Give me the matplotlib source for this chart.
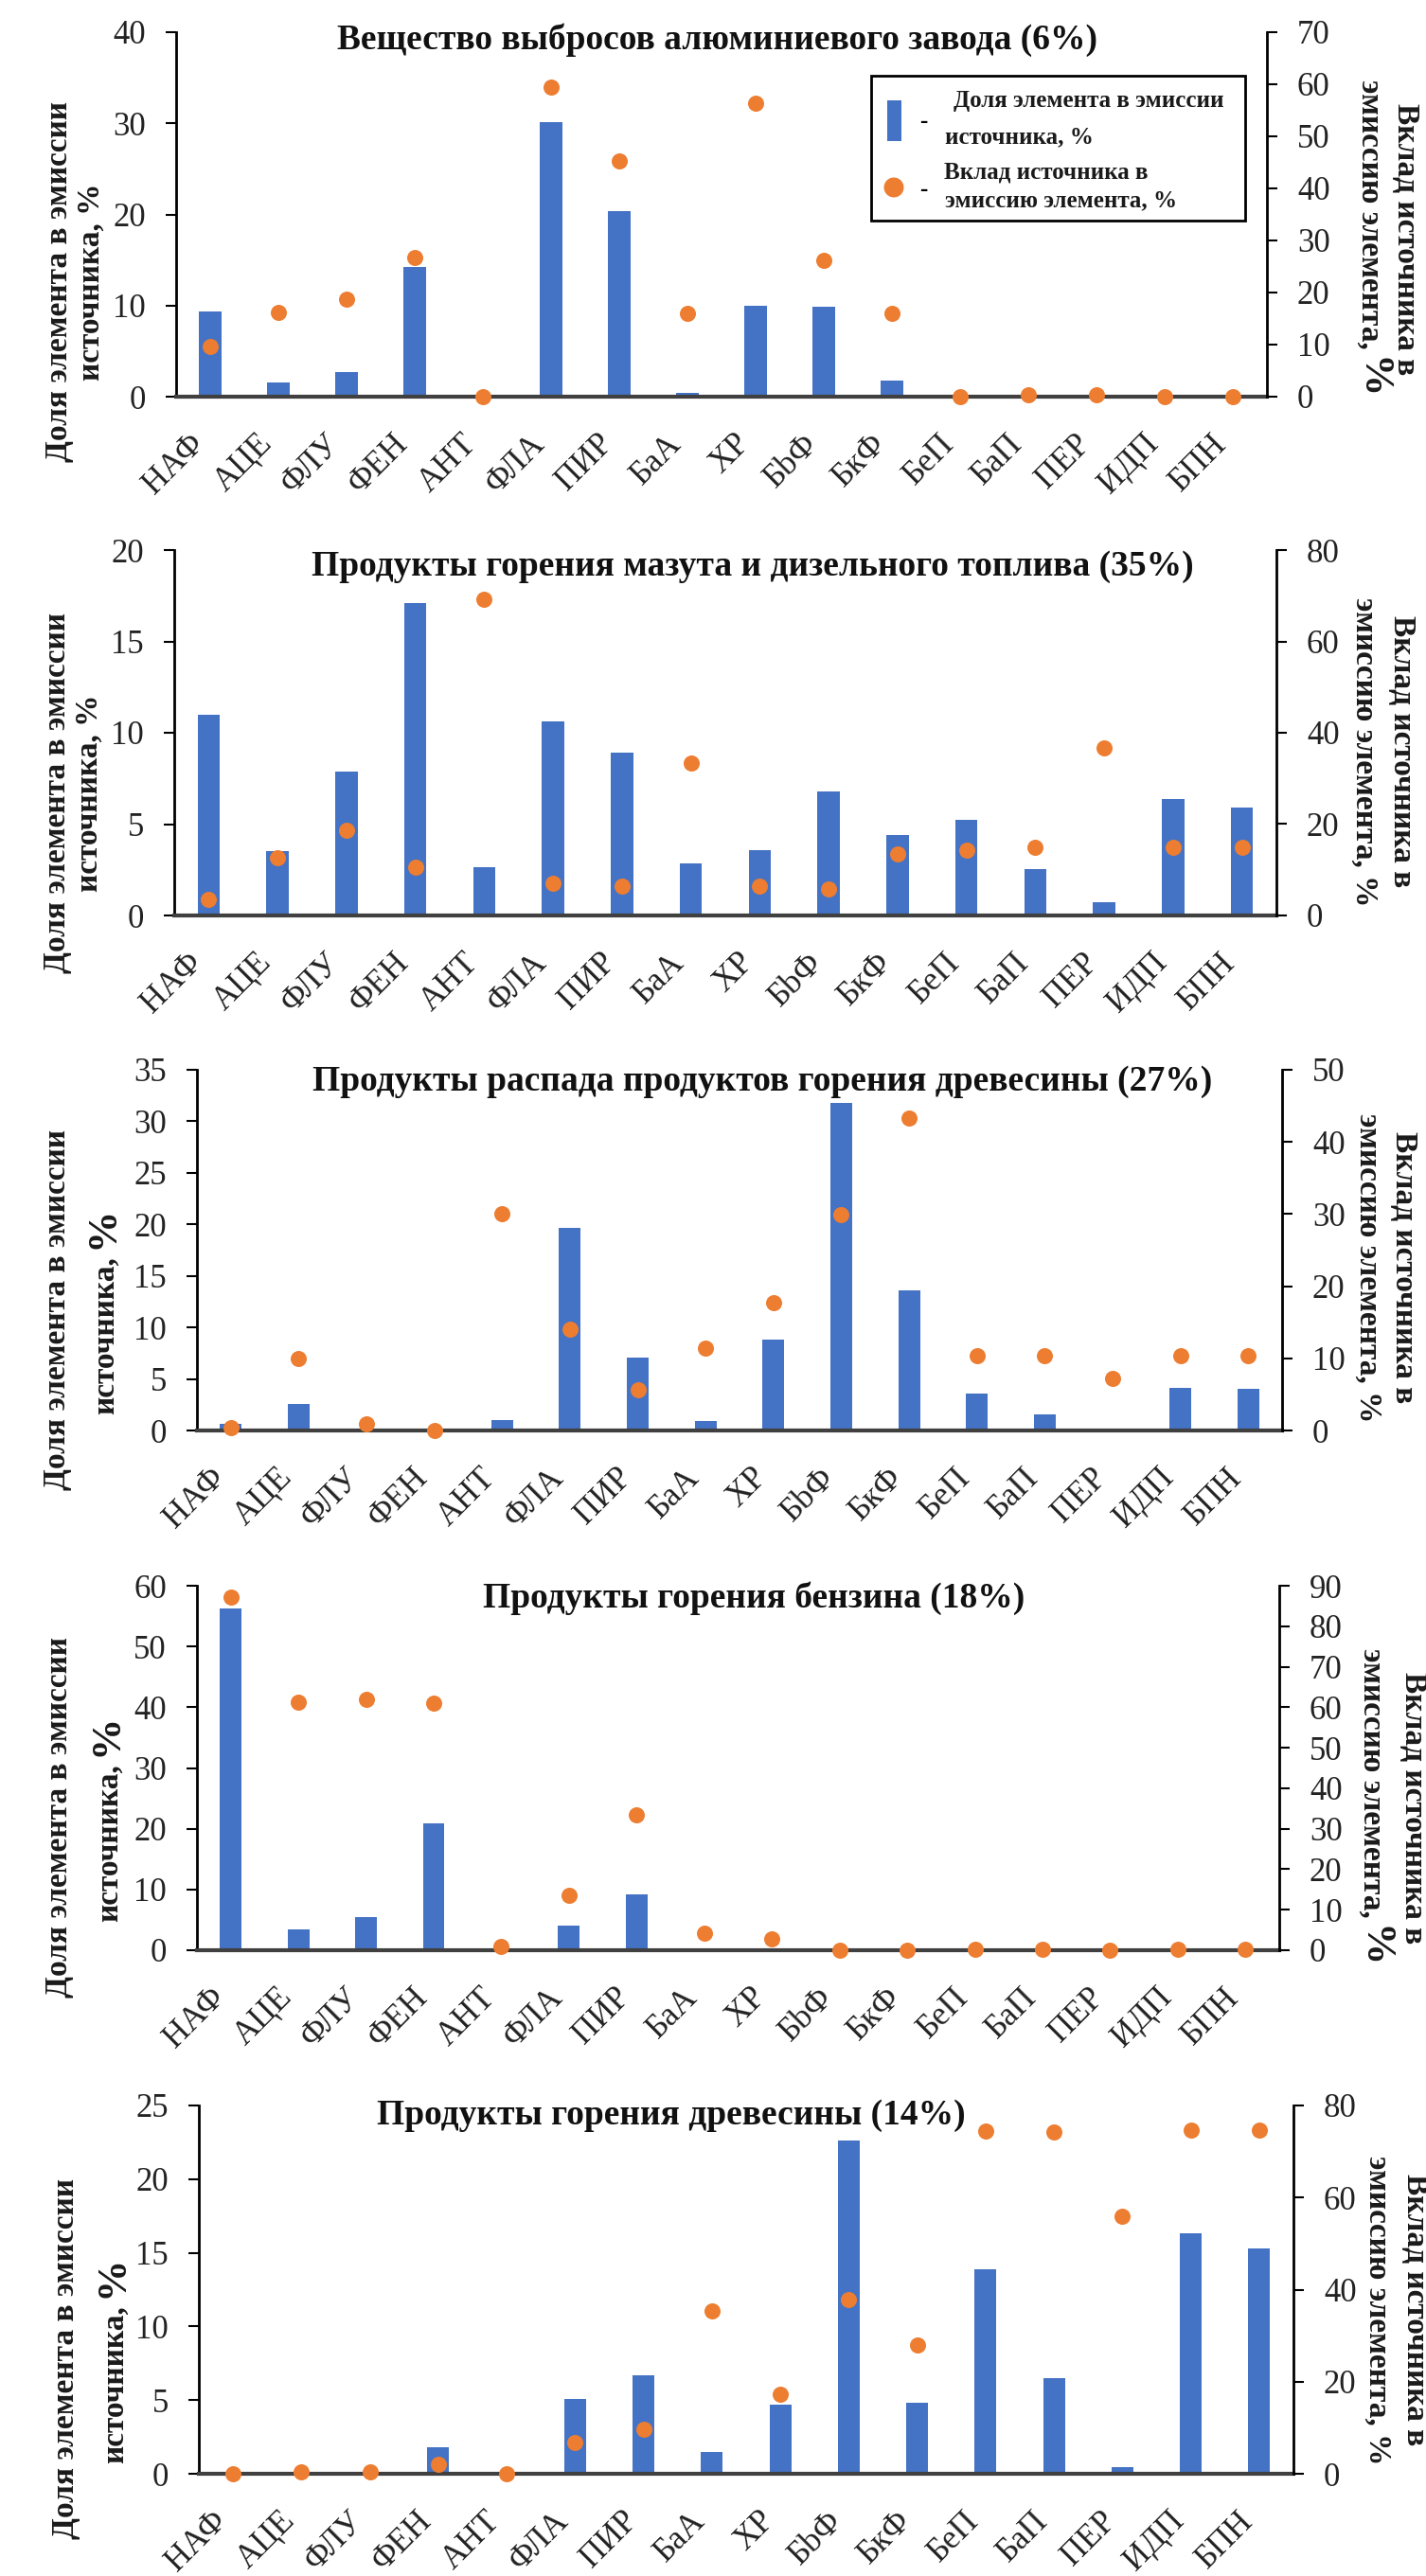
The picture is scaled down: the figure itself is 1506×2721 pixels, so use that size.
import matplotlib
matplotlib.use('Agg')
import matplotlib.pyplot as plt
from matplotlib.patches import Rectangle, Ellipse
import numpy as np

# Figure size in pixels (dpi 100)
W, H = 1506, 2721
DPI = 100
BLUE = '#4472C4'
ORANGE = '#ED7D31'
plt.rcParams['font.family'] = ['Liberation Serif', 'DejaVu Serif']

categories = ['НАФ', 'АЦЕ', 'ФЛУ', 'ФЕН', 'АНТ', 'ФЛА', 'ПИР', 'БаА', 'ХР',
              'БbФ', 'БкФ', 'БеП', 'БаП', 'ПЕР', 'ИДП', 'БПН']

# Доля элемента в эмиссии источника, % (bars, left axis)
# Вклад источника в эмиссию элемента, % (dots, right axis)
alum_share = [9.4, 1.6, 2.7, 14.2, 0, 30.1, 20.4, 0.45, 10.0, 9.9, 1.75, 0, 0, 0, 0, 0]
alum_contrib = [9.6, 16.1, 18.8, 26.8, 0, 59.4, 45.2, 16.0, 56.3, 26.2, 16.0, 0, 0.4, 0.4, 0, 0]

oil_share = [11.0, 3.5, 7.9, 17.1, 2.65, 10.6, 8.9, 2.85, 3.6, 6.8, 4.4, 5.25, 2.55, 0.7, 6.35, 5.9]
oil_contrib = [3.6, 12.6, 18.7, 10.5, 69.3, 7.1, 6.5, 33.4, 6.5, 5.7, 13.4, 14.3, 14.9, 36.6, 14.9, 14.9]

wooddec_share = [0.6, 2.55, 0.2, 0, 1.05, 19.7, 7.1, 0.9, 8.8, 31.8, 13.6, 3.6, 1.6, 0, 4.1, 4.0]
wooddec_contrib = [0.35, 10.0, 0.9, 0, 30.0, 14.1, 5.6, 11.4, 17.7, 29.9, 43.3, 10.4, 10.4, 7.2, 10.4, 10.4]

petrol_share = [56.2, 3.5, 5.5, 20.9, 0, 4.1, 9.2, 0, 0, 0, 0, 0, 0, 0, 0, 0]
petrol_contrib = [87.1, 61.3, 61.9, 60.9, 1.0, 13.6, 33.5, 4.1, 2.7, 0, 0, 0.3, 0.3, 0, 0.3, 0.3]

wood_share = [0, 0, 0, 1.8, 0, 5.05, 6.7, 1.5, 4.7, 22.6, 4.8, 13.9, 6.5, 0.45, 16.3, 15.3]
wood_contrib = [0, 0.4, 0.4, 2.1, 0, 6.7, 9.7, 35.3, 17.2, 37.8, 28.0, 74.4, 74.2, 55.9, 74.6, 74.6]

titles = ['Вещество выбросов алюминиевого завода (6%)',
          'Продукты горения мазута и дизельного топлива (35%)',
          'Продукты распада продуктов горения древесины (27%)',
          'Продукты горения бензина (18%)',
          'Продукты горения древесины (14%)']

shares = [alum_share, oil_share, wooddec_share, petrol_share, wood_share]
contribs = [alum_contrib, oil_contrib, wooddec_contrib, petrol_contrib, wood_contrib]
left_max = [40, 20, 35, 60, 25]
left_step = [10, 5, 5, 10, 5]
right_max = [70, 80, 50, 90, 80]
right_step = [10, 20, 10, 10, 20]

# layout in pixels: axes box (left, top, right, bottom), title centre,
# left label baselines/centre, right label baselines/centre, big % flags
layout = [
    dict(box=(186, 34, 1338, 419), title=(757, 42), lx=(71, 105), ly=298, rx=(1438, 1476), ry=253,
         lbig=False, rbig=True),
    dict(box=(184, 581, 1348, 967), title=(795, 598), lx=(69, 103), ly=838, rx=(1432, 1472), ry=794,
         lbig=False, rbig=False),
    dict(box=(208, 1130, 1354, 1511), title=(805, 1142), lx=(69, 120), ly=1384, rx=(1436, 1474), ry=1339,
         lbig=True, rbig=False),
    dict(box=(208, 1675, 1351, 2060), title=(796, 1688), lx=(71, 124), ly=1920, rx=(1440, 1484), ry=1910,
         lbig=True, rbig=True),
    dict(box=(210, 2224, 1366, 2613), title=(709, 2234), lx=(78, 130), ly=2492, rx=(1446, 1486), ry=2440,
         lbig=True, rbig=False),
]

fig = plt.figure(figsize=(W / DPI, H / DPI), dpi=DPI)
renderer = fig.canvas.get_renderer()


def fx(x):
    return x / W


def fy(y):
    return 1 - y / H


def rot_label(xb, yc, parts, rot):
    # several text pieces along one rotated line, centred on yc
    ts = []
    for s, fs in parts:
        t = fig.text(0, 0, s, rotation=rot, rotation_mode='anchor', ha='left', va='baseline',
                     fontsize=fs, fontweight='bold', color='#1a1a1a')
        ts.append(t)
    lens = [t.get_window_extent(renderer).height for t in ts]
    gap = 8
    total = sum(lens) + gap * (len(ts) - 1)
    yd = H - yc
    if rot == 90:
        pos = yd - total / 2
        for t, L in zip(ts, lens):
            t.set_position((xb / W, pos / H))
            pos += L + gap
    else:
        pos = yd + total / 2
        for t, L in zip(ts, lens):
            t.set_position((xb / W, pos / H))
            pos -= L + gap


LBL = 24
BIG = 32
TICK = 25
x = np.arange(len(categories))

for i, lay in enumerate(layout):
    l, t, r, b = lay['box']
    ax = fig.add_axes([fx(l), fy(b), (r - l) / W, (b - t) / H])
    ax.bar(x, shares[i], width=0.32, color=BLUE, zorder=2)
    ax.set_xlim(-0.5, len(categories) - 0.5)
    ax.set_ylim(0, left_max[i])
    ax.set_yticks(np.arange(0, left_max[i] + 0.01, left_step[i]))
    ax.set_xticks(x)
    ax.set_xticklabels(categories, rotation=45, ha='right', va='top')
    ax.tick_params(axis='x', length=0, pad=24, labelsize=TICK, labelcolor='#222222')
    ax.tick_params(axis='y', direction='out', length=8, width=1.5, pad=15, labelsize=TICK,
                   labelcolor='#222222')
    for s in ['top', 'right']:
        ax.spines[s].set_visible(False)
    ax.spines['left'].set_linewidth(2)
    ax.spines['bottom'].set_linewidth(3)
    ax.spines['bottom'].set_color('#404040')
    ax.patch.set_alpha(0)

    ax2 = ax.twinx()
    ax2.scatter(x, contribs[i], s=150, color=ORANGE, zorder=3, clip_on=False, linewidths=0)
    ax2.set_ylim(0, right_max[i])
    ax2.set_yticks(np.arange(0, right_max[i] + 0.01, right_step[i]))
    ax2.tick_params(axis='y', direction='out', length=8, width=1.5, pad=15, labelsize=TICK,
                    labelcolor='#222222')
    for s in ['top', 'bottom', 'left']:
        ax2.spines[s].set_visible(False)
    ax2.spines['right'].set_linewidth(2)

    tx, ty = lay['title']
    fig.text(fx(tx), fy(ty), titles[i], ha='center', va='center', fontsize=27,
             fontweight='bold', color='#111111')

    # left axis label (two lines)
    rot_label(lay['lx'][0], lay['ly'], [('Доля элемента в эмиссии', LBL)], 90)
    if lay['lbig']:
        rot_label(lay['lx'][1], lay['ly'], [('источника,', LBL), ('%', BIG)], 90)
    else:
        rot_label(lay['lx'][1], lay['ly'], [('источника, %', LBL)], 90)

    # right axis label (two lines)
    rot_label(lay['rx'][1], lay['ry'], [('Вклад источника в', LBL)], 270)
    if lay['rbig']:
        rot_label(lay['rx'][0], lay['ry'], [('эмиссию элемента,', LBL), ('%', BIG)], 270)
    else:
        rot_label(lay['rx'][0], lay['ry'], [('эмиссию элемента, %', LBL)], 270)

# legend of the first panel, drawn by hand
fig.add_artist(Rectangle((fx(920), fy(233)), 395 / W, 153 / H, transform=fig.transFigure,
                         fill=False, lw=2, edgecolor='black'))
fig.add_artist(Rectangle((fx(937), fy(149)), 15 / W, 43 / H, transform=fig.transFigure,
                         facecolor=BLUE, edgecolor='none'))
fig.add_artist(Ellipse((fx(944), fy(198)), 21 / W, 21 / H, transform=fig.transFigure,
                       facecolor=ORANGE, edgecolor='none'))
LEG = 18
for px, py, s in [(975, 128, '-'), (975, 200, '-')]:
    fig.text(fx(px), fy(py), s, ha='center', va='center', fontsize=LEG, fontweight='bold')
for px, py, s in [(1007, 107, 'Доля элемента в эмиссии'), (998, 145, 'источника, %'),
                  (997, 182, 'Вклад источника в'), (998, 212, 'эмиссию элемента, %')]:
    fig.text(fx(px), fy(py), s, ha='left', va='center', fontsize=LEG, fontweight='bold',
             color='#1a1a1a')

fig.savefig('out.png', dpi=DPI)
